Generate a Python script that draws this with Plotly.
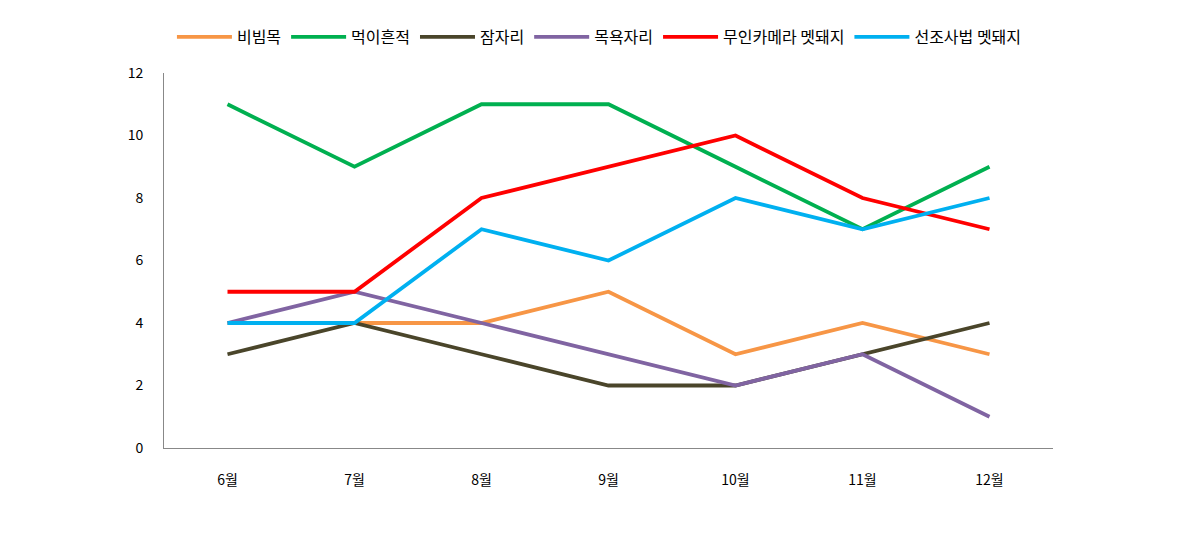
import plotly.graph_objects as go

months = ["6월", "7월", "8월", "9월", "10월", "11월", "12월"]
series_names = ["비빔목", "먹이흔적", "잠자리", "목욕자리", "무인카메라 멧돼지", "선조사법 멧돼지"]
bibimmok = [4, 4, 4, 5, 3, 4, 3]
meogi = [11, 9, 11, 11, 9, 7, 9]
jamjari = [3, 4, 3, 2, 2, 3, 4]
mogyok = [4, 5, 4, 3, 2, 3, 1]
camera = [5, 5, 8, 9, 10, 8, 7]
seonjo = [4, 4, 7, 6, 8, 7, 8]
colors = ["#F79646", "#00B050", "#4A452A", "#8064A2", "#FF0000", "#00B0F0"]

values = [bibimmok, meogi, jamjari, mogyok, camera, seonjo]

fig = go.Figure()
for name, vals, c in zip(series_names, values, colors):
    fig.add_trace(go.Scatter(x=months, y=vals, name=name, mode="lines",
                             line=dict(color=c, width=3.8)))

font = "Noto Sans CJK KR, DejaVu Sans, sans-serif"
fig.update_layout(
    width=1190, height=539,
    margin=dict(l=156, r=145, t=65, b=99, autoexpand=False),
    paper_bgcolor="white", plot_bgcolor="white",
    font=dict(family=font, size=14, color="#000000"),
    legend=dict(orientation="h", x=0.497, xanchor="center", xref="container",
                y=1 - 29 / 539, yanchor="middle", yref="container",
                font=dict(size=16), itemwidth=55, tracegroupgap=0),
    showlegend=True,
)
fig.update_xaxes(type="category", range=[-0.5, 6.5], showline=True, linecolor="#888888",
                 linewidth=1, showgrid=False, ticks="", ticklabelstandoff=19, zeroline=False)
fig.update_yaxes(range=[0, 12], dtick=2, showline=True, linecolor="#888888", linewidth=1,
                 showgrid=False, ticks="", zeroline=False, ticklabelstandoff=17)

fig.write_html("out.html")
